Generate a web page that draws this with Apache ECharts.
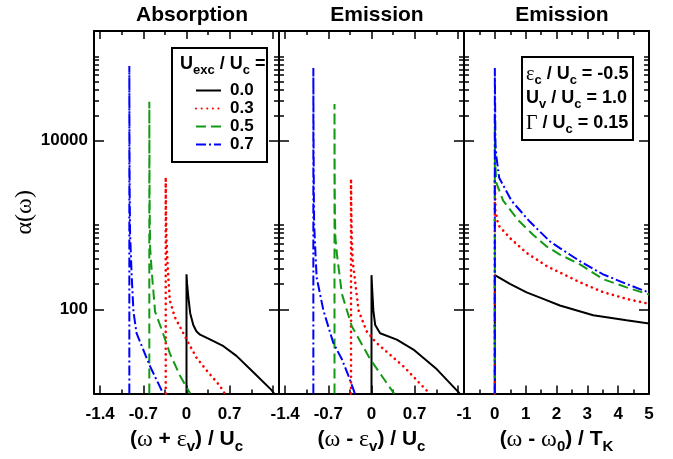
<!DOCTYPE html>
<html>
<head>
<meta charset="utf-8">
<script src="https://cdn.jsdelivr.net/npm/echarts@6/dist/echarts.min.js"></script>
<style>
html, body { margin: 0; padding: 0; background: #fff; }
#chart { width: 673px; height: 459px; }
</style>
</head>
<body>
<div id="chart"></div>
<script>
// U_exc / U_c values (legend)
const seriesNames = ['0.0', '0.3', '0.5', '0.7'];

// panel 1: absorption, x = (w + ev) / Uc
const abs00 = [[0, 10], [0, 260], [0.01, 200], [0.03, 139], [0.06, 90], [0.11, 65], [0.16, 55], [0.22, 50], [0.38, 44], [0.6, 36.5], [0.81, 28], [1.08, 18], [1.38, 11], [1.42, 10]];
const abs03 = [[-0.337, 10], [-0.337, 3700], [-0.333, 1500], [-0.325, 700], [-0.31, 380], [-0.295, 238], [-0.27, 127], [-0.19, 81], [-0.08, 57], [0.03, 40], [0.165, 26.5], [0.33, 18.7], [0.54, 12.4], [0.62, 10]];
const abs05 = [[-0.603, 10], [-0.603, 29000], [-0.601, 8000], [-0.598, 2000], [-0.59, 540], [-0.56, 260], [-0.51, 94], [-0.4, 57], [-0.27, 30], [-0.105, 16.3], [0.06, 10]];
const abs07 = [[-0.927, 10], [-0.927, 77000], [-0.925, 15000], [-0.922, 3000], [-0.915, 800], [-0.89, 260], [-0.86, 94], [-0.81, 52], [-0.7, 33], [-0.59, 21], [-0.43, 12], [-0.38, 10]];

// panel 2: emission, x = (w - ev) / Uc
const em00 = [[0, 10], [0, 254], [0.01, 180], [0.03, 97], [0.06, 65], [0.14, 52], [0.41, 43.6], [0.68, 33.3], [1.06, 19.4], [1.41, 10.4], [1.43, 10]];
const em03 = [[-0.332, 10], [-0.332, 3540], [-0.328, 1500], [-0.32, 700], [-0.305, 372], [-0.21, 97], [-0.08, 55], [0.08, 40], [0.52, 21], [0.92, 10.4], [0.94, 10]];
const em05 = [[-0.6, 10], [-0.6, 27200], [-0.598, 6000], [-0.594, 1500], [-0.585, 700], [-0.56, 446], [-0.48, 152], [-0.32, 63], [-0.02, 25.5], [0.35, 10.4], [0.37, 10]];
const em07 = [[-0.943, 10], [-0.943, 72800], [-0.94, 12000], [-0.935, 2500], [-0.93, 1000], [-0.89, 240], [-0.78, 97], [-0.62, 40], [-0.48, 25.5], [-0.376, 16.4], [-0.295, 11.3], [-0.27, 10]];

// panel 3: emission, x = (w - w0) / TK
const tk00 = [[0, 10], [0, 255], [0.49, 200], [1.03, 159], [1.57, 133], [2.11, 111], [3.19, 85], [4.27, 74], [5, 68]];
const tk03 = [[0, 10], [0, 3540], [0.02, 1500], [0.11, 1000], [0.49, 700], [1.03, 467], [1.68, 326], [2.11, 273], [2.76, 209], [3.51, 160], [4.27, 133], [5, 116]];
const tk05 = [[0, 10], [0, 20000], [0.02, 5000], [0.05, 3150], [0.27, 1940], [0.76, 1140], [1.24, 765], [1.68, 557], [2.11, 446], [2.76, 341], [3.51, 228], [4.27, 182], [5, 150]];
const tk07 = [[0, 10], [0, 72800], [0.02, 9000], [0.05, 6510], [0.14, 3640], [0.54, 1940], [1.14, 1090], [1.79, 637], [2.11, 532], [2.76, 372], [3.51, 260], [4.27, 200], [5, 158]];

// ticks
const uTickMajor = [-1.4, -0.7, 0, 0.7, 1.4];
const uTickMinor = [-1.05, -0.35, 0.35, 1.05];
const uTickLabels = [-1.4, -0.7, 0, 0.7];
const tkTickMajor = [-1, 0, 1, 2, 3, 4, 5];
const tkTickMinor = [-0.5, 0.5, 1.5, 2.5, 3.5, 4.5];
const tkTickLabels = [-1, 0, 1, 2, 3, 4, 5];
const yTickMajor = [100, 10000];
const yTickMinor = [200, 300, 400, 500, 600, 700, 800, 900, 1000, 20000, 30000, 40000, 50000, 60000, 70000, 80000, 90000, 100000];

const F = 'Liberation Sans, Arial, sans-serif';
const SERIF = 'Liberation Serif, serif';
const colors = ['#000000', '#ff0000', '#139913', '#0000ff'];
const dashes = ['solid', [0.1, 5.5], [10, 5], [10, 3, 2, 3]];

// axis-name text
const rich = {
    b: { fontSize: 21, fontWeight: 'bold', fontFamily: F, color: '#000' },
    g: { fontSize: 24, fontFamily: SERIF, color: '#000' },
    s: { fontSize: 15, fontWeight: 'bold', fontFamily: F, color: '#000', padding: [14, 0, 0, 0] }
};
// text inside the boxes
const richBox = {
    b: { fontSize: 18, fontWeight: 'bold', fontFamily: F, color: '#000' },
    g: { fontSize: 20, fontFamily: SERIF, color: '#000' },
    s: { fontSize: 13, fontWeight: 'bold', fontFamily: F, color: '#000', padding: [12, 0, 0, 0] }
};

const gridLefts = [94, 279, 464];
const panels = [
    { data: [abs00, abs03, abs05, abs07], xmin: -1.5, xmax: 1.5, major: uTickMajor, minor: uTickMinor, labels: uTickLabels,
      name: '{b|(}{g|ω}{b| + }{g|ε}{s|v}{b|) / U}{s|c}' },
    { data: [em00, em03, em05, em07], xmin: -1.5, xmax: 1.5, major: uTickMajor, minor: uTickMinor, labels: uTickLabels,
      name: '{b|(}{g|ω}{b| - }{g|ε}{s|v}{b|) / U}{s|c}' },
    { data: [tk00, tk03, tk05, tk07], xmin: -1, xmax: 5, major: tkTickMajor, minor: tkTickMinor, labels: tkTickLabels,
      name: '{b|(}{g|ω}{b| - }{g|ω}{s|0}{b|) / T}{s|K}' }
];

const tickStyle = { color: '#000', width: 1.5 };
const grids = [], xAxis = [], yAxis = [], series = [];

panels.forEach(function (p, g) {
    grids.push({ left: gridLefts[g], top: 31, width: 185, height: 369 });
    const xb = { gridIndex: g, type: 'value', min: p.xmin, max: p.xmax, splitLine: { show: false } };
    xAxis.push(
        Object.assign({}, xb, {
            position: 'bottom',
            axisLine: { show: true, onZero: false, lineStyle: { color: '#000', width: 2 } },
            axisTick: { show: true, inside: true, length: 8, customValues: p.major, lineStyle: tickStyle },
            axisLabel: { customValues: p.labels, margin: 12, fontSize: 17, fontWeight: 'bold', color: '#000', fontFamily: F },
            name: p.name, nameLocation: 'middle', nameGap: 31, nameTextStyle: { rich: rich }
        }),
        Object.assign({}, xb, {
            position: 'bottom',
            axisLine: { show: false, onZero: false },
            axisTick: { show: true, inside: true, length: 4, customValues: p.minor, lineStyle: tickStyle },
            axisLabel: { show: false }
        }),
        Object.assign({}, xb, {
            position: 'top',
            axisLine: { show: true, onZero: false, lineStyle: { color: '#000', width: 2 } },
            axisTick: { show: true, inside: true, length: 8, customValues: p.major, lineStyle: tickStyle },
            axisLabel: { show: false }
        }),
        Object.assign({}, xb, {
            position: 'top',
            axisLine: { show: false, onZero: false },
            axisTick: { show: true, inside: true, length: 4, customValues: p.minor, lineStyle: tickStyle },
            axisLabel: { show: false }
        })
    );
    const yb = { gridIndex: g, type: 'log', logBase: 10, min: 10, max: 200000, splitLine: { show: false } };
    yAxis.push(
        Object.assign({}, yb, {
            position: 'left',
            axisLine: { show: true, onZero: false, lineStyle: { color: '#000', width: 2 } },
            axisTick: { show: true, inside: true, length: 10, customValues: yTickMajor, lineStyle: tickStyle },
            axisLabel: g === 0 ? { customValues: yTickMajor, margin: 6, fontSize: 17, fontWeight: 'bold', color: '#000', fontFamily: F,
                padding: [6, 0, 0, 0], formatter: function (v) { return String(v); } } : { show: false },
            name: g === 0 ? 'α(ω)' : '', nameLocation: 'middle', nameRotate: 90, nameGap: 46,
            nameTextStyle: { fontSize: 24, fontFamily: SERIF, color: '#000' }
        }),
        Object.assign({}, yb, {
            position: 'left',
            axisLine: { show: false, onZero: false },
            axisTick: { show: true, inside: true, length: 5, customValues: yTickMinor, lineStyle: tickStyle },
            axisLabel: { show: false }
        }),
        Object.assign({}, yb, {
            position: 'right',
            axisLine: { show: true, onZero: false, lineStyle: { color: '#000', width: 2 } },
            axisTick: { show: true, inside: true, length: 10, customValues: yTickMajor, lineStyle: tickStyle },
            axisLabel: { show: false }
        }),
        Object.assign({}, yb, {
            position: 'right',
            axisLine: { show: false, onZero: false },
            axisTick: { show: true, inside: true, length: 5, customValues: yTickMinor, lineStyle: tickStyle },
            axisLabel: { show: false }
        })
    );
    p.data.forEach(function (d, i) {
        series.push({
            name: seriesNames[i],
            type: 'line',
            xAxisIndex: g * 4,
            yAxisIndex: g * 4,
            data: d,
            showSymbol: false,
            symbol: 'none',
            clip: true,
            silent: true,
            lineStyle: { color: colors[i], width: i === 1 ? 2.6 : 2, type: dashes[i], cap: i === 1 ? 'round' : 'butt' },
            itemStyle: { color: colors[i] }
        });
    });
});

const titleStyle = { fontSize: 21, fontWeight: 'bold', fontFamily: F, color: '#000' };
const option = {
    backgroundColor: '#fff',
    animation: false,
    title: [
        { text: 'Absorption', left: 187, top: 0, textAlign: 'center', textStyle: titleStyle },
        { text: 'Emission', left: 372, top: 0, textAlign: 'center', textStyle: titleStyle },
        { text: 'Emission', left: 557, top: 0, textAlign: 'center', textStyle: titleStyle }
    ],
    grid: grids,
    xAxis: xAxis,
    yAxis: yAxis,
    legend: {
        data: seriesNames,
        orient: 'vertical',
        left: 190,
        top: 77,
        itemWidth: 25,
        itemHeight: 12,
        itemGap: 1,
        selectedMode: false,
        itemStyle: { color: 'transparent', borderWidth: 0, opacity: 0 },
        textStyle: { fontSize: 17, fontWeight: 'bold', fontFamily: F, color: '#000', padding: [0, 0, 0, 4] }
    },
    graphic: [
        { type: 'rect', shape: { x: 172, y: 48, width: 95, height: 114 }, style: { fill: '#fff', stroke: '#000', lineWidth: 2 }, z: 1 },
        { type: 'text', x: 180, y: 52, z: 2, style: { text: '{b|U}{s|exc}{b| / U}{s|c}{b| =}', rich: richBox } },
        { type: 'rect', shape: { x: 522, y: 57, width: 111, height: 83 }, style: { fill: '#fff', stroke: '#000', lineWidth: 2 }, z: 1 },
        { type: 'text', x: 526, y: 62, z: 2, style: { text: '{g|ε}{s|c}{b| / U}{s|c}{b| = -0.5}', rich: richBox } },
        { type: 'text', x: 526, y: 86, z: 2, style: { text: '{b|U}{s|v}{b| / U}{s|c}{b| = 1.0}', rich: richBox } },
        { type: 'text', x: 526, y: 111, z: 2, style: { text: '{g|Γ}{b| / U}{s|c}{b| = 0.15}', rich: richBox } }
    ],
    series: series
};

const chart = echarts.init(document.getElementById('chart'), null, { renderer: 'canvas' });
chart.setOption(option);
</script>
</body>
</html>
